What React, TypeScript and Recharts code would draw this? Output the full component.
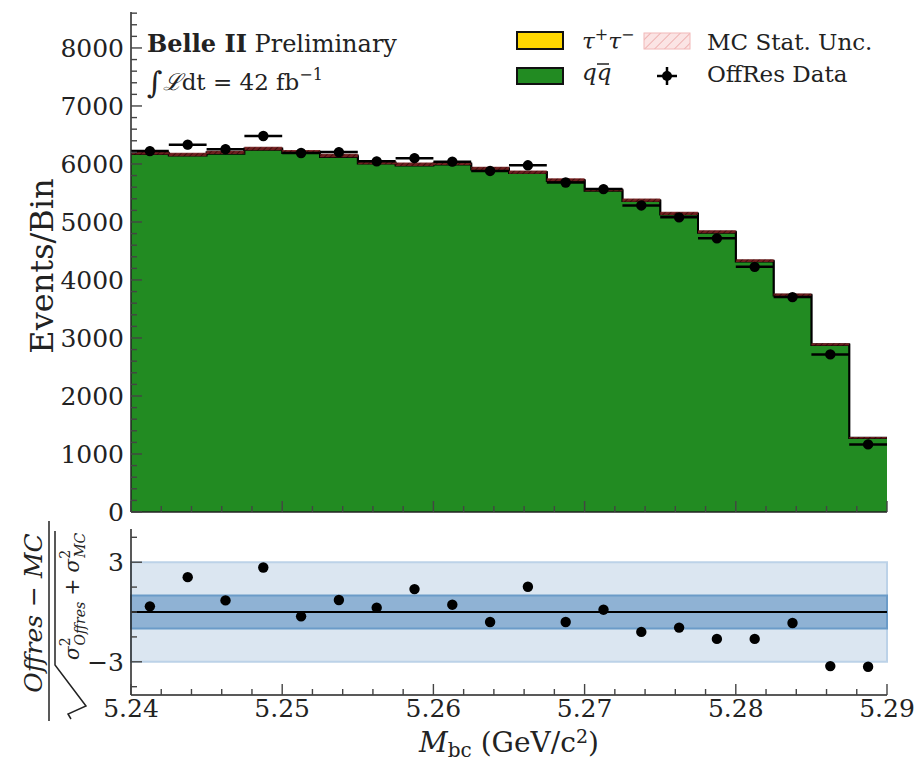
import React from 'react'
import { ComposedChart, Area, Scatter, ErrorBar, XAxis, YAxis, ReferenceArea, ReferenceLine } from 'recharts'

// M_bc binning, GeV/c^2
const binEdges = [
  5.24, 5.2425, 5.245, 5.2475, 5.25, 5.2525, 5.255, 5.2575, 5.26, 5.2625, 5.265,
  5.2675, 5.27, 5.2725, 5.275, 5.2775, 5.28, 5.2825, 5.285, 5.2875, 5.29,
]
const binCenters = [
  5.24125, 5.24375, 5.24625, 5.24875, 5.25125, 5.25375, 5.25625, 5.25875, 5.26125, 5.26375,
  5.26625, 5.26875, 5.27125, 5.27375, 5.27625, 5.27875, 5.28125, 5.28375, 5.28625, 5.28875,
]
const binHalfWidth = 0.00125

// stacked MC components (events / bin)
const qqEvents = [
  6173, 6147, 6175, 6245, 6191, 6122, 6008, 5974, 5992, 5905,
  5844, 5706, 5540, 5360, 5130, 4816, 4320, 3733, 2881, 1275,
]
const tauEvents = [22, 18, 25, 20, 19, 23, 17, 21, 18, 20, 16, 19, 17, 15, 18, 14, 13, 12, 9, 5]
const mcStatUnc = [30, 30, 30, 30, 30, 30, 29, 29, 29, 29, 29, 28, 28, 28, 27, 26, 25, 23, 20, 14]

// off-resonance data
const offResEvents = [
  6222, 6333, 6255, 6482, 6190, 6205, 6045, 6100, 6040, 5880,
  5977, 5680, 5567, 5285, 5080, 4718, 4226, 3705, 2717, 1165,
]
const pulls = [
  0.34, 2.1, 0.7, 2.68, -0.26, 0.72, 0.26, 1.38, 0.44, -0.6,
  1.52, -0.6, 0.14, -1.2, -0.94, -1.62, -1.62, -0.66, -3.26, -3.3,
]

// axis ticks
const xTicks = [
  5.24, 5.242, 5.244, 5.246, 5.248, 5.25, 5.252, 5.254, 5.256, 5.258, 5.26, 5.262, 5.264,
  5.266, 5.268, 5.27, 5.272, 5.274, 5.276, 5.278, 5.28, 5.282, 5.284, 5.286, 5.288, 5.29,
]
const xTickLabels = ['5.24', '5.25', '5.26', '5.27', '5.28', '5.29']
const eventTicks = Array.from({ length: 44 }, (_, i) => i * 200)
const eventTickLabels = [0, 1000, 2000, 3000, 4000, 5000, 6000, 7000, 8000]
const pullTicks = [-4.5, -3, -1.5, 0, 1.5, 3, 4.5]
const pullTickLabels = [-3, 3]

const histRows = binEdges.map((x, i) => {
  const k = Math.min(i, qqEvents.length - 1)
  const total = qqEvents[k] + tauEvents[k]
  return { x, qq: qqEvents[k], total, unc: [total - mcStatUnc[k], total + mcStatUnc[k]] }
})
const dataRows = binCenters.map((x, i) => ({
  x,
  y: offResEvents[i],
  xerr: binHalfWidth,
  yerr: Math.sqrt(offResEvents[i]),
}))
const pullRows = binCenters.map((x, i) => ({ x, y: pulls[i] }))

const FONT = '"DejaVu Serif", serif'
const INK = '#222'
const frame = { stroke: INK, strokeWidth: 1.5 }
const labelStyle = { fontFamily: FONT, fontSize: 25 }

type Side = 'bottom' | 'top' | 'left' | 'right'

const isXMajor = (v: number) => xTickLabels.includes(v.toFixed(2)) && Math.abs(v * 100 - Math.round(v * 100)) < 1e-6

// inward-pointing ticks, labels only on the bottom/left axes
function makeTick(side: Side, isMajor: (v: number) => boolean, label?: (v: number) => string | null) {
  return (props: any) => {
    const { x, y, payload } = props
    const v = payload.value as number
    const major = isMajor(v)
    const len = major ? 11 : 6
    let x2 = x
    let y2 = y
    if (side === 'bottom') y2 = y - len
    if (side === 'top') y2 = y + len
    if (side === 'left') x2 = x + len
    if (side === 'right') x2 = x - len
    const text = major && label ? label(v) : null
    return (
      <g>
        <line x1={x} y1={y} x2={x2} y2={y2} stroke="#444" strokeWidth={1.4} />
        {text !== null && side === 'bottom' && (
          <text x={x} y={y + 22} textAnchor="middle" fill={INK} style={labelStyle}>
            {text}
          </text>
        )}
        {text !== null && side === 'left' && (
          <text x={x - 7} y={y} dy="0.36em" textAnchor="end" fill={INK} style={labelStyle}>
            {text}
          </text>
        )}
      </g>
    )
  }
}

const dot = (p: any) => <circle cx={p.cx} cy={p.cy} r={5.2} fill="#000" />

export default function App() {
  return (
    <div style={{ position: 'absolute', left: 0, top: 0, width: 915, height: 762, background: '#fff' }}>
      {/* upper panel: stacked MC vs off-resonance data */}
      <div style={{ position: 'absolute', left: 0, top: 0 }}>
        <ComposedChart width={915} height={530} data={histRows} margin={{ top: 12, right: 28, bottom: 0, left: 0 }}>
          <defs>
            <pattern id="uncHatch" patternUnits="userSpaceOnUse" width={4} height={4} patternTransform="rotate(45)">
              <rect width={4} height={4} fill="#7a2222" />
              <line x1={0} y1={0} x2={0} y2={4} stroke="#4a0e0e" strokeWidth={2} />
            </pattern>
          </defs>
          <XAxis xAxisId="b" dataKey="x" type="number" domain={[5.24, 5.29]} allowDataOverflow ticks={xTicks}
            interval={0} height={18} tickSize={0} tickMargin={0} tickLine={false} axisLine={frame}
            tick={makeTick('bottom', isXMajor)} />
          <XAxis xAxisId="t" dataKey="x" type="number" orientation="top" domain={[5.24, 5.29]} allowDataOverflow
            ticks={xTicks} interval={0} height={0} tickSize={0} tickMargin={0} tickLine={false} axisLine={frame}
            tick={makeTick('top', isXMajor)} />
          <YAxis yAxisId="l" type="number" domain={[0, 8620]} allowDataOverflow ticks={eventTicks} interval={0}
            width={131} tickSize={0} tickMargin={0} tickLine={false} axisLine={frame}
            tick={makeTick('left', (v) => eventTickLabels.includes(v), (v) => String(v))} />
          <YAxis yAxisId="r" type="number" orientation="right" domain={[0, 8620]} allowDataOverflow ticks={eventTicks}
            interval={0} width={0} tickSize={0} tickMargin={0} tickLine={false} axisLine={frame}
            tick={makeTick('right', (v) => eventTickLabels.includes(v))} />
          <Area xAxisId="b" yAxisId="l" type="stepAfter" dataKey="total" fill="#ffd700" fillOpacity={1}
            stroke="#000" strokeWidth={2} dot={false} activeDot={false} isAnimationActive={false} />
          <Area xAxisId="b" yAxisId="l" type="stepAfter" dataKey="qq" fill="#228b22" fillOpacity={1}
            stroke="#000" strokeWidth={2} dot={false} activeDot={false} isAnimationActive={false} />
          <Area xAxisId="b" yAxisId="l" type="stepAfter" dataKey="unc" fill="url(#uncHatch)" fillOpacity={0.9}
            stroke="none" dot={false} activeDot={false} isAnimationActive={false} />
          <Scatter xAxisId="b" yAxisId="l" data={dataRows} dataKey="y" fill="#000" shape={dot} isAnimationActive={false}>
            <ErrorBar dataKey="xerr" direction="x" width={0} stroke="#000" strokeWidth={2.5} />
            <ErrorBar dataKey="yerr" direction="y" width={0} stroke="#000" strokeWidth={2.5} />
          </Scatter>
        </ComposedChart>
      </div>

      {/* lower panel: pulls */}
      <div style={{ position: 'absolute', left: 0, top: 517 }}>
        <ComposedChart width={915} height={245} data={pullRows} margin={{ top: 12, right: 28, bottom: 0, left: 0 }}>
          <XAxis xAxisId="b" dataKey="x" type="number" domain={[5.24, 5.29]} allowDataOverflow ticks={xTicks}
            interval={0} height={67} tickSize={0} tickMargin={0} tickLine={false} axisLine={frame}
            tick={makeTick('bottom', isXMajor, (v) => v.toFixed(2))} />
          <XAxis xAxisId="t" dataKey="x" type="number" orientation="top" domain={[5.24, 5.29]} allowDataOverflow
            ticks={xTicks} interval={0} height={0} tickSize={0} tickMargin={0} tickLine={false} axisLine={frame}
            tick={makeTick('top', isXMajor)} />
          <YAxis yAxisId="l" type="number" domain={[-5, 5]} allowDataOverflow ticks={pullTicks} interval={0}
            width={131} tickSize={0} tickMargin={0} tickLine={false} axisLine={frame}
            tick={makeTick('left', (v) => pullTickLabels.includes(v), (v) => (v < 0 ? '\u2212' + Math.abs(v) : String(v)))} />
          <YAxis yAxisId="r" type="number" orientation="right" domain={[-5, 5]} allowDataOverflow ticks={pullTicks}
            interval={0} width={0} tickSize={0} tickMargin={0} tickLine={false} axisLine={frame}
            tick={makeTick('right', (v) => pullTickLabels.includes(v))} />
          <ReferenceArea xAxisId="b" yAxisId="l" y1={-3} y2={3} fill="#dbe6f1" fillOpacity={1} stroke="#bcd2e8" strokeWidth={2} />
          <ReferenceArea xAxisId="b" yAxisId="l" y1={-1} y2={1} fill="#8fb2d4" fillOpacity={1} stroke="#6b9bc8" strokeWidth={2} />
          <ReferenceLine xAxisId="b" yAxisId="l" y={0} stroke="#000" strokeWidth={1.8} />
          <Scatter xAxisId="b" yAxisId="l" data={pullRows} dataKey="y" fill="#000" shape={dot} isAnimationActive={false} />
        </ComposedChart>
      </div>

      {/* labels and legend */}
      <svg width={915} height={762} style={{ position: 'absolute', left: 0, top: 0, pointerEvents: 'none', fontFamily: FONT }}
        fill={INK}>
        <defs>
          <pattern id="legendHatch" patternUnits="userSpaceOnUse" width={7} height={7} patternTransform="rotate(45)">
            <rect width={7} height={7} fill="#fbe4e4" />
            <line x1={0} y1={0} x2={0} y2={7} stroke="#eaa0a0" strokeWidth={1.5} />
          </pattern>
        </defs>

        <text x={147} y={52} fontSize={24}>
          <tspan fontWeight="bold">Belle II</tspan> Preliminary
        </text>
        <text x={147} y={90} fontSize={23}>
          <tspan fontSize={30} dy={3}>∫</tspan>
          <tspan dy={-3} fontStyle="italic">ℒ</tspan>
          <tspan>dt = 42 fb</tspan>
          <tspan fontSize={16} dy={-10}>−1</tspan>
        </text>

        <rect x={517} y={32} width={46} height={17} fill="#ffd700" stroke="#111" strokeWidth={2} />
        <text x={582} y={49} fontSize={23} fontStyle="italic">
          τ<tspan fontSize={16} dy={-9} fontStyle="normal">+</tspan>
          <tspan dy={9}>τ</tspan>
          <tspan fontSize={16} dy={-9} fontStyle="normal">−</tspan>
        </text>
        <rect x={517} y={68} width={46} height={16} fill="#228b22" stroke="#111" strokeWidth={2} />
        <text x={582} y={80} fontSize={23} fontStyle="italic">qq</text>
        <line x1={597} y1={64} x2={609} y2={64} stroke={INK} strokeWidth={1.5} />

        <rect x={644} y={33} width={46} height={16} fill="url(#legendHatch)" stroke="#f2b8b8" strokeWidth={1} />
        <text x={707} y={50} fontSize={23}>MC Stat. Unc.</text>
        <line x1={657} y1={76} x2={677} y2={76} stroke="#000" strokeWidth={2.5} />
        <line x1={667} y1={67} x2={667} y2={85} stroke="#000" strokeWidth={2.5} />
        <circle cx={667} cy={76} r={5} fill="#000" />
        <text x={707} y={82} fontSize={23}>OffRes Data</text>

        <text transform="translate(42, 266) rotate(-90)" textAnchor="middle" dominantBaseline="central" fontSize={32}>
          Events/Bin
        </text>

        <text x={509} y={752} textAnchor="middle" fontSize={28}>
          <tspan fontStyle="italic">M</tspan>
          <tspan fontSize={20} dy={5}>bc</tspan>
          <tspan dy={-5}> (GeV/c</tspan>
          <tspan fontSize={19} dy={-9}>2</tspan>
          <tspan dy={9}>)</tspan>
        </text>

        {/* pull axis title: (Offres - MC) / sqrt(sigma_Offres^2 + sigma_MC^2) */}
        <g transform="translate(49, 613) rotate(-90)">
          <text x={0} y={-7} textAnchor="middle" fontSize={25} fontStyle="italic">Offres − MC</text>
          <line x1={-108} y1={0} x2={92} y2={0} stroke={INK} strokeWidth={1.5} />
          <path d="M -106 22 L -101 19 L -93 37 L -52 6 L 82 6" fill="none" stroke={INK} strokeWidth={1.5} />
          <text x={-47} y={30} fontSize={20} fontStyle="italic">
            σ<tspan fontSize={14} dy={-9} fontStyle="normal">2</tspan>
            <tspan fontSize={14} dx={-8} dy={15}>Offres</tspan>
            <tspan dy={-6}> + σ</tspan>
            <tspan fontSize={14} dy={-9} fontStyle="normal">2</tspan>
            <tspan fontSize={14} dx={-8} dy={15}>MC</tspan>
          </text>
        </g>
      </svg>
    </div>
  )
}
